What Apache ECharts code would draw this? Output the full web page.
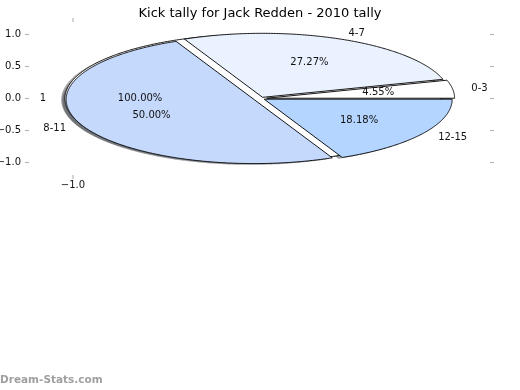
<!DOCTYPE html>
<html><head><meta charset="utf-8">
<script src="https://cdn.jsdelivr.net/npm/echarts@6/dist/echarts.min.js"></script>
<style>html,body{margin:0;padding:0;background:#fff}#c{width:520px;height:390px}</style>
</head><body><div id="c"></div>
<script>
// ---- data ----
const TITLE = 'Kick tally for Jack Redden - 2010 tally';
const WATERMARK = 'Dream-Stats.com';
const outerLabels = ['1'];
const outerValues = [1];
const innerLabels = ['0-3', '4-7', '8-11', '12-15'];
const innerValues = [1, 6, 11, 4];
const yTickValues = [-1, -0.5, 0, 0.5, 1];
const yTickLabels = ['\u22121.0', '\u22120.5', '0.0', '0.5', '1.0'];
const xTickValues = [-1];
const xTickLabels = ['\u22121.0'];

// ---- styling / layout ----
const outerColors = ['#ffffff'];
const innerColors = ['#ffffff', '#eaf2ff', '#c5d9fd', '#b3d5ff'];
const outerExplode = [0.043];
const innerExplode = [0.03, 0.02, 0.04, 0.02];
const FONT = '"DejaVu Sans", sans-serif';
const X_MIN = -1.234, X_MAX = 1.218, Y_MIN = -1.195, Y_MAX = 1.195;
const TICK_LEN = 4, TICK_COLOR = '#b8b8b8';

function wedgeGeom(values, explode, i) {
  const total = values.reduce((a, b) => a + b, 0);
  let start = 0;
  for (let k = 0; k < i; k++) start += values[k];
  const a0 = start / total * 2 * Math.PI;
  const a1 = (start + values[i]) / total * 2 * Math.PI;
  const am = (a0 + a1) / 2;
  return { a0, a1, am, cx: explode[i] * Math.cos(am), cy: explode[i] * Math.sin(am), frac: values[i] / total };
}
function wedgePoints(api, g, ox, oy) {
  const pts = [];
  const full = (g.a1 - g.a0) >= 2 * Math.PI - 1e-9;
  if (!full) pts.push(api.coord([g.cx + ox, g.cy + oy]));
  const n = Math.max(8, Math.ceil((g.a1 - g.a0) / (Math.PI / 360)));
  for (let k = 0; k <= n; k++) {
    const t = g.a0 + (g.a1 - g.a0) * k / n;
    pts.push(api.coord([g.cx + ox + Math.cos(t), g.cy + oy + Math.sin(t)]));
  }
  return pts;
}
function shadowColor(hex) {
  const r = parseInt(hex.slice(1, 3), 16), g = parseInt(hex.slice(3, 5), 16), b = parseInt(hex.slice(5, 7), 16);
  return 'rgba(' + Math.round(r * 0.3) + ',' + Math.round(g * 0.3) + ',' + Math.round(b * 0.3) + ',0.5)';
}
function shadowSeries(values, colors, explode) {
  return {
    type: 'custom', coordinateSystem: 'cartesian2d', z: 1, silent: true,
    data: values.map(v => [v]),
    renderItem: (params, api) => {
      const g = wedgeGeom(values, explode, params.dataIndex);
      return { type: 'polygon', shape: { points: wedgePoints(api, g, -0.02, -0.02) },
        style: { fill: shadowColor(colors[params.dataIndex]), stroke: null } };
    }
  };
}
function wedgeSeries(values, colors, explode, z) {
  return {
    type: 'custom', coordinateSystem: 'cartesian2d', z: z, silent: true,
    data: values.map(v => [v]),
    renderItem: (params, api) => {
      const g = wedgeGeom(values, explode, params.dataIndex);
      return { type: 'polygon', shape: { points: wedgePoints(api, g, 0, 0) },
        style: { fill: colors[params.dataIndex], stroke: '#000', lineWidth: 0.9, lineJoin: 'round' } };
    }
  };
}
function textSeries(values, labels, explode) {
  return {
    type: 'custom', coordinateSystem: 'cartesian2d', z: 10, silent: true,
    data: values.map(v => [v]),
    renderItem: (params, api) => {
      const i = params.dataIndex;
      const g = wedgeGeom(values, explode, i);
      const lx = g.cx + 1.1 * Math.cos(g.am), ly = g.cy + 1.1 * Math.sin(g.am);
      const px = g.cx + 0.6 * Math.cos(g.am), py = g.cy + 0.6 * Math.sin(g.am);
      const lp = api.coord([lx, ly]), pp = api.coord([px, py]);
      return { type: 'group', children: [
        { type: 'text', x: lp[0], y: lp[1], style: { text: labels[i], fill: '#111', font: '10px ' + FONT,
            align: lx > 0 ? 'left' : 'right', verticalAlign: 'middle' } },
        { type: 'text', x: pp[0], y: pp[1], style: { text: (g.frac * 100).toFixed(2) + '%', fill: '#111', font: '10px ' + FONT,
            align: 'center', verticalAlign: 'middle' } }
      ] };
    }
  };
}
// tick marks placed through the axes' own scales (left/right for y values, bottom/top for x values)
function tickSeries() {
  const ticks = [];
  yTickValues.forEach(v => { ticks.push({ side: 'left', v }); ticks.push({ side: 'right', v }); });
  xTickValues.forEach(v => { ticks.push({ side: 'bottom', v }); ticks.push({ side: 'top', v }); });
  return {
    type: 'custom', coordinateSystem: 'cartesian2d', z: 0, silent: true, clip: false,
    data: ticks.map(t => [t.v]),
    renderItem: (params, api) => {
      const t = ticks[params.dataIndex];
      let p, d;
      if (t.side === 'left') { p = api.coord([X_MIN, t.v]); d = [-TICK_LEN, 0]; }
      else if (t.side === 'right') { p = api.coord([X_MAX, t.v]); d = [TICK_LEN, 0]; }
      else if (t.side === 'bottom') { p = api.coord([t.v, Y_MIN]); d = [0, TICK_LEN]; }
      else { p = api.coord([t.v, Y_MAX]); d = [0, -TICK_LEN]; }
      return { type: 'line', shape: { x1: p[0], y1: p[1], x2: p[0] + d[0], y2: p[1] + d[1] },
        style: { stroke: TICK_COLOR, lineWidth: 1.2 } };
    }
  };
}

const noLine = { show: false };
const chart = echarts.init(document.getElementById('c'), null, { renderer: 'canvas' });
chart.setOption({
  animation: false,
  backgroundColor: '#fff',
  title: { text: TITLE, left: 'center', top: 2, textStyle: { fontSize: 13, fontWeight: 'normal', color: '#000', fontFamily: FONT } },
  grid: { left: 29, right: 30, top: 22, bottom: 215, containLabel: false, outerBoundsMode: 'none' },
  xAxis: {
    type: 'value', position: 'bottom', min: X_MIN, max: X_MAX, axisLine: noLine, splitLine: noLine, axisTick: noLine,
    axisLabel: { customValues: xTickValues, formatter: v => xTickLabels[xTickValues.indexOf(v)] || '', fontSize: 10, color: '#111', margin: 5, fontFamily: FONT }
  },
  yAxis: {
    type: 'value', position: 'left', min: Y_MIN, max: Y_MAX, axisLine: noLine, splitLine: noLine, axisTick: noLine,
    axisLabel: { customValues: yTickValues, formatter: v => yTickLabels[yTickValues.indexOf(v)] || '', fontSize: 10, color: '#111', margin: 8, fontFamily: FONT }
  },
  graphic: [
    { type: 'text', left: 0, top: 375, style: { text: WATERMARK, fill: '#a0a0a0', font: 'bold 10.5px ' + FONT } }
  ],
  series: [
    tickSeries(),
    shadowSeries(outerValues, outerColors, outerExplode),
    shadowSeries(innerValues, innerColors, innerExplode),
    wedgeSeries(outerValues, outerColors, outerExplode, 2),
    wedgeSeries(innerValues, innerColors, innerExplode, 3),
    textSeries(outerValues, outerLabels, outerExplode),
    textSeries(innerValues, innerLabels, innerExplode)
  ]
});
</script></body></html>
